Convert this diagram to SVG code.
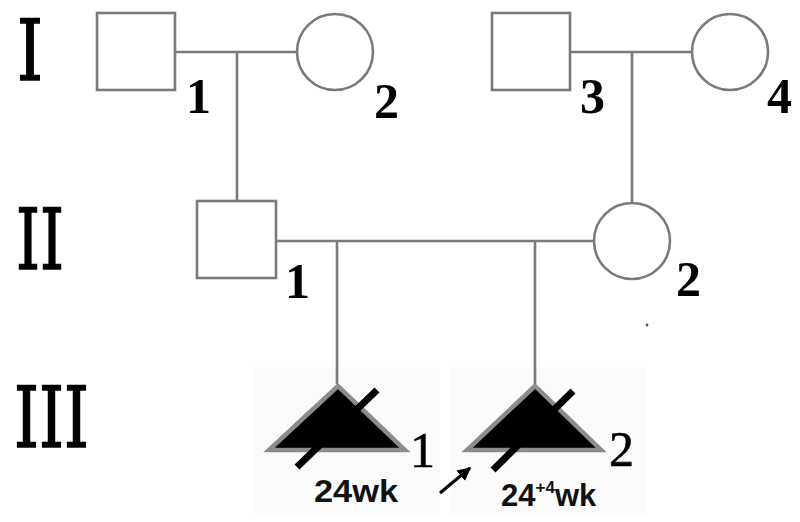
<svg xmlns="http://www.w3.org/2000/svg" width="800" height="522" viewBox="0 0 800 522">
<style>
.sym{fill:#fff;stroke:#7a7a7a;stroke-width:2.6}
.ln{stroke:#7a7a7a;stroke-width:2.6;fill:none}
.tri{fill:#000;stroke:#8c8c8c;stroke-width:4.5;stroke-linejoin:miter}
.sl{stroke:#000;stroke-width:7}
.rom{font-family:"DejaVu Serif","Liberation Serif",serif;font-size:85px;fill:#000;stroke:#000;stroke-width:1.6}
.num{font-family:"Liberation Serif",serif;font-size:50px;font-weight:bold;fill:#000}
.num3{font-family:"Liberation Serif",serif;font-size:50px;fill:#000;stroke:#000;stroke-width:0.6}
.wk{font-family:"Liberation Sans",sans-serif;font-size:31px;font-weight:bold;fill:#111}
</style>
<defs>
<marker id="ah" viewBox="0 0 10 10" refX="9" refY="5" markerWidth="4.5" markerHeight="4.5" orient="auto">
<path d="M0,0 L10,5 L0,10 z" fill="#000"/>
</marker>
</defs>
<rect width="800" height="522" fill="#fff"/>
<rect x="255" y="367" width="185" height="148" fill="#fbfbfb"/>
<rect x="450" y="367" width="195" height="148" fill="#fbfbfb"/>
<g id="generations">
<text class="rom" x="17" y="80" textLength="26" lengthAdjust="spacingAndGlyphs">I</text>
<text class="rom" x="16" y="269" textLength="48" lengthAdjust="spacingAndGlyphs">II</text>
<text class="rom" x="14" y="447" textLength="75" lengthAdjust="spacingAndGlyphs">III</text>
</g>
<g id="connectors">
<line class="ln" x1="175" y1="52" x2="297" y2="52"/>
<line class="ln" x1="237" y1="52" x2="237" y2="201"/>
<line class="ln" x1="570" y1="52" x2="692" y2="52"/>
<line class="ln" x1="632" y1="52" x2="632" y2="203"/>
<line class="ln" x1="276" y1="241" x2="594" y2="241"/>
<line class="ln" x1="337" y1="241" x2="337" y2="384"/>
<line class="ln" x1="535" y1="241" x2="535" y2="384"/>
</g>
<g id="I-1">
<rect class="sym" x="97" y="13" width="78" height="77"/>
<text class="num" x="186" y="113">1</text>
</g>
<g id="I-2">
<circle class="sym" cx="335" cy="52" r="38"/>
<text class="num" x="374" y="118">2</text>
</g>
<g id="I-3">
<rect class="sym" x="492" y="13" width="78" height="77"/>
<text class="num" x="580" y="113">3</text>
</g>
<g id="I-4">
<circle class="sym" cx="730" cy="52" r="38"/>
<text class="num" x="767" y="113">4</text>
</g>
<g id="II-1">
<rect class="sym" x="197" y="201" width="79" height="77"/>
<text class="num" x="285" y="298">1</text>
</g>
<g id="II-2">
<circle class="sym" cx="632" cy="241" r="38"/>
<text class="num" x="676" y="296">2</text>
</g>
<g id="III-1">
<polygon class="tri" points="338,386 269,450 405,450"/>
<line class="sl" x1="297" y1="467" x2="377" y2="390"/>
<text class="num3" x="410" y="467">1</text>
<text class="wk" x="314" y="502" textLength="84" lengthAdjust="spacingAndGlyphs">24wk</text>
</g>
<g id="III-2">
<polygon class="tri" points="535,386 467,450 601,450"/>
<line class="sl" x1="493" y1="470" x2="573" y2="391"/>
<text class="num3" x="609" y="466">2</text>
<text class="wk" x="501" y="506">24<tspan font-size="17" dy="-13">+4</tspan><tspan dy="13">wk</tspan></text>
<line x1="440" y1="493" x2="470" y2="468" stroke="#000" stroke-width="3" marker-end="url(#ah)"/>
</g>
<circle cx="647" cy="325" r="1.4" fill="#555"/>
</svg>
